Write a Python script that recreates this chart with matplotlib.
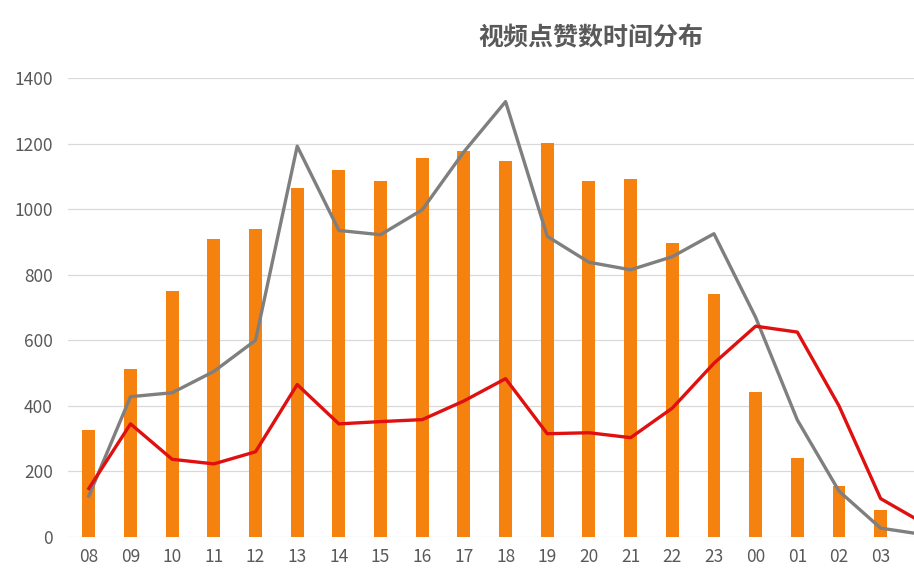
import matplotlib
matplotlib.use("Agg")
import matplotlib.pyplot as plt
import numpy as np

plt.rcParams['font.family'] = ['Noto Sans CJK SC', 'DejaVu Sans']

hours = ["08", "09", "10", "11", "12", "13", "14", "15", "16", "17",
         "18", "19", "20", "21", "22", "23", "00", "01", "02", "03", "04"]
bar_values = [325, 512, 750, 908, 940, 1065, 1118, 1085, 1157, 1177,
              1147, 1203, 1085, 1093, 897, 740, 443, 242, 157, 83, 0]
gray_values = [125, 428, 440, 505, 600, 1192, 935, 922, 998, 1175,
               1328, 917, 838, 815, 855, 925, 670, 357, 140, 27, 8]
red_values = [148, 345, 237, 223, 260, 465, 345, 352, 358, 415,
              483, 315, 318, 303, 393, 530, 643, 625, 400, 117, 44]
title = "视频点赞数时间分布"

fig = plt.figure(figsize=(9.14, 5.78), dpi=100)
ax = fig.add_axes([68/914, 41/578, 1 - 68/914, (537-78)/578])

x = np.arange(len(hours))
ax.bar(x, bar_values, width=0.31, color="#F5820F", zorder=2)
ax.plot(x, gray_values, color="#7F7F7F", lw=2.4, zorder=3)
ax.plot(x, red_values, color="#E01010", lw=2.4, zorder=4)

ax.set_xlim(-0.5, 19.8)
ax.set_ylim(0, 1400)
ax.set_yticks(range(0, 1401, 200))
ax.set_xticks(x[:-1])
ax.set_xticklabels(hours[:-1])
ax.grid(axis="y", color="#D9D9D9", lw=0.9, zorder=0)
ax.set_axisbelow(True)
for s in ax.spines.values():
    s.set_visible(False)
ax.tick_params(axis="both", length=0, colors="#595959", labelsize=12.5)
ax.tick_params(axis="y", pad=11)
ax.tick_params(axis="x", pad=8)

fig.text(591/914, 1 - 38/578, title, ha="center", va="center",
         fontsize=18, fontweight="bold", color="#595959")

fig.savefig("out.png", dpi=100)
